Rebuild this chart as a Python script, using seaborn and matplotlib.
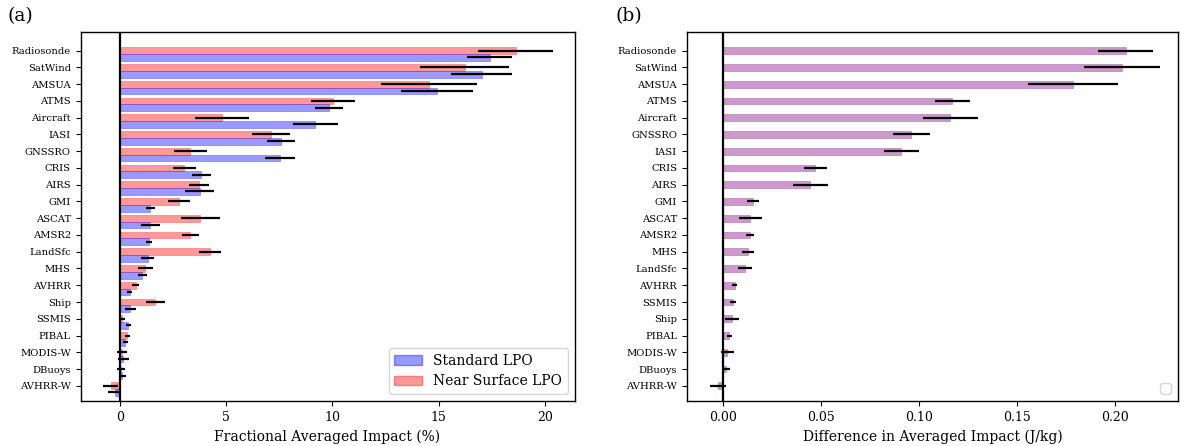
import numpy as np
import pandas as pd
import matplotlib
matplotlib.use("Agg")
import matplotlib.pyplot as plt
import seaborn as sns
from matplotlib.patches import Patch

# ---------------- data ----------------
left_cats = ["Radiosonde", "SatWind", "AMSUA", "ATMS", "Aircraft", "IASI", "GNSSRO",
             "CRIS", "AIRS", "GMI", "ASCAT", "AMSR2", "LandSfc", "MHS", "AVHRR",
             "Ship", "SSMIS", "PIBAL", "MODIS-W", "DBuoys", "AVHRR-W"]
std_vals = [17.4, 17.03, 14.94, 9.84, 9.21, 7.59, 7.56, 3.84, 3.76, 1.45, 1.45, 1.4,
            1.31, 1.07, 0.48, 0.5, 0.41, 0.27, 0.17, 0.13, -0.24]
std_err = [1.04, 1.43, 1.7, 0.65, 1.05, 0.66, 0.71, 0.44, 0.67, 0.22, 0.44, 0.14,
           0.3, 0.23, 0.12, 0.27, 0.11, 0.1, 0.25, 0.15, 0.31]
near_vals = [18.63, 16.23, 14.56, 10.03, 4.8, 7.11, 3.33, 3.05, 3.71, 2.8, 3.8, 3.33,
             4.26, 1.21, 0.75, 1.68, 0.13, 0.36, 0.1, 0.06, -0.42]
near_err = [1.77, 2.1, 2.27, 1.03, 1.27, 0.89, 0.77, 0.52, 0.47, 0.51, 0.91, 0.41,
            0.53, 0.36, 0.18, 0.46, 0.12, 0.13, 0.24, 0.19, 0.36]

right_cats = ["Radiosonde", "SatWind", "AMSUA", "ATMS", "Aircraft", "GNSSRO", "IASI",
              "CRIS", "AIRS", "GMI", "ASCAT", "AMSR2", "MHS", "LandSfc", "AVHRR",
              "SSMIS", "Ship", "PIBAL", "MODIS-W", "DBuoys", "AVHRR-W"]
diff_vals = [0.2053, 0.2033, 0.1783, 0.117, 0.116, 0.0961, 0.091, 0.0471, 0.0446,
             0.0155, 0.014, 0.0138, 0.0128, 0.0112, 0.006, 0.0051, 0.0045, 0.0033,
             0.0022, 0.0017, -0.0024]
diff_err = [0.014, 0.0193, 0.023, 0.0088, 0.014, 0.0093, 0.0088, 0.0059, 0.009,
            0.003, 0.006, 0.002, 0.003, 0.0037, 0.0011, 0.0014, 0.0036, 0.0014,
            0.0033, 0.0018, 0.0042]

series_names = ["Standard LPO", "Near Surface LPO"]
x_ticks_left = [0, 5, 10, 15, 20]
x_ticks_right = [0.0, 0.05, 0.10, 0.15, 0.20]

# ---------------- style ----------------
plt.rcParams["font.family"] = ["DejaVu Serif"]
plt.rcParams["axes.linewidth"] = 1.0

fig = plt.figure(figsize=(11.81, 4.46), dpi=100)
ax1 = fig.add_axes([0.0682, 0.1009, 0.4865 - 0.0682, 0.9283 - 0.1009])
ax2 = fig.add_axes([0.5815, 0.1009, 0.9975 - 0.5815, 0.9283 - 0.1009])

# ---------------- left panel ----------------
df_left = pd.DataFrame({
    "cat": left_cats * 2,
    "val": near_vals + std_vals,
    "series": [series_names[1]] * len(left_cats) + [series_names[0]] * len(left_cats),
})
pal = {series_names[0]: "blue", series_names[1]: "red"}
sns.barplot(data=df_left, x="val", y="cat", hue="series", order=left_cats,
            hue_order=[series_names[1], series_names[0]], palette=pal,
            orient="h", errorbar=None, alpha=0.4, width=0.8, legend=False,
            saturation=1, ax=ax1)
for p in ax1.patches:
    p.set_edgecolor(p.get_facecolor())
    p.set_linewidth(0.5)

pos = np.arange(len(left_cats))
ax1.errorbar(near_vals, pos - 0.2, xerr=near_err, fmt="none", ecolor="black",
             elinewidth=1.6, zorder=4)
ax1.errorbar(std_vals, pos + 0.2, xerr=std_err, fmt="none", ecolor="black",
             elinewidth=1.6, zorder=4)
ax1.axvline(0, color="black", lw=1.6, zorder=3)
ax1.set_yticks(pos - 0.2)
ax1.set_yticklabels(left_cats, fontsize=7.2)
ax1.set_ylim(20.91 - 0.2, -1.12 - 0.2)
ax1.set_xlim(-1.84, 21.4)
ax1.set_xticks(x_ticks_left)
ax1.set_xticklabels([str(t) for t in x_ticks_left], fontsize=9)
ax1.set_xlabel("Fractional Averaged Impact (%)", fontsize=10)
ax1.set_ylabel("")
handles = [Patch(facecolor="blue", edgecolor="blue", alpha=0.4, label=series_names[0]),
           Patch(facecolor="red", edgecolor="red", alpha=0.4, label=series_names[1])]
ax1.legend(handles=handles, loc="lower right", fontsize=10)

# ---------------- right panel ----------------
df_right = pd.DataFrame({"cat": right_cats, "val": diff_vals})
sns.barplot(data=df_right, x="val", y="cat", order=right_cats, color="purple",
            orient="h", errorbar=None, alpha=0.4, width=0.4, saturation=1, ax=ax2)
for p in ax2.patches:
    p.set_edgecolor(p.get_facecolor())
    p.set_linewidth(0.5)
pos2 = np.arange(len(right_cats))
ax2.errorbar(diff_vals, pos2, xerr=diff_err, fmt="none", ecolor="black",
             elinewidth=1.6, zorder=4)
ax2.axvline(0, color="black", lw=1.6, zorder=3)
ax2.set_yticks(pos2)
ax2.set_yticklabels(right_cats, fontsize=7.2)
ax2.set_ylim(20.91, -1.12)
ax2.set_xlim(-0.0184, 0.232)
ax2.set_xticks(x_ticks_right)
ax2.set_xticklabels([f"{t:.2f}" for t in x_ticks_right], fontsize=9)
ax2.set_xlabel("Difference in Averaged Impact (J/kg)", fontsize=10)
ax2.set_ylabel("")
ax2.legend(handles=[], loc="lower right")

fig.text(0.006, 0.985, "(a)", fontsize=13.5, va="top", ha="left")
fig.text(0.521, 0.985, "(b)", fontsize=13.5, va="top", ha="left")

fig.savefig("out.png", dpi=100)
